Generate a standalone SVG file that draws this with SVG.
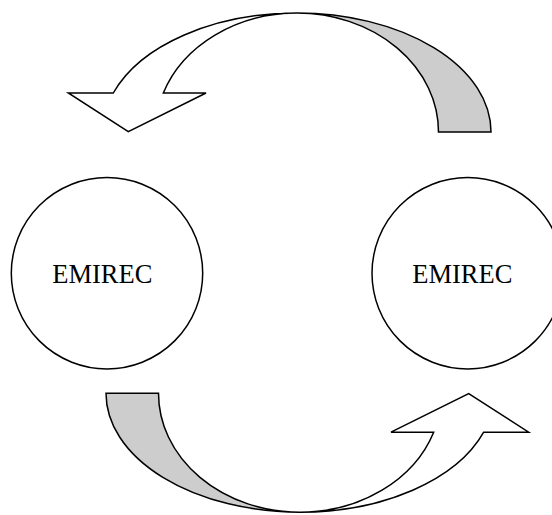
<svg xmlns="http://www.w3.org/2000/svg" width="552" height="515" viewBox="0 0 552 515">
<style>
.ln{stroke:#000;stroke-width:1.5;stroke-linejoin:miter}
.back{fill:#cdcdcd}
.front{fill:#fff}
.node{fill:#fff;stroke:#000;stroke-width:1.5}
.lbl{font-family:"Liberation Serif","Times New Roman",serif;font-size:26.5px;fill:#000}
</style>
<defs>
<g id="curved-arrow">
<path class="ln back" d="M 297,13 A 194,119 0 0 1 491,132 L 438.5,132 A 141.5,119 0 0 0 297,13 Z"/>
<path class="ln front" d="M 297,13 A 194,119 0 0 0 113.3,93 L 68.3,93 L 128.3,131.7 L 206,93 L 163.3,93 A 141.5,119 0 0 1 297,13 Z"/>
</g>
</defs>
<g id="connectors">
<use id="arrow-top" href="#curved-arrow"/>
<use id="arrow-bottom" href="#curved-arrow" transform="rotate(180 298.5 262.6)"/>
</g>
<g id="node-left">
<circle class="node" cx="107" cy="273.2" r="95.7"/>
<text class="lbl" x="52.3" y="283.3">EMIREC</text>
</g>
<g id="node-right">
<circle class="node" cx="467.7" cy="273.2" r="95.7"/>
<text class="lbl" x="412.3" y="283.3">EMIREC</text>
</g>
</svg>
